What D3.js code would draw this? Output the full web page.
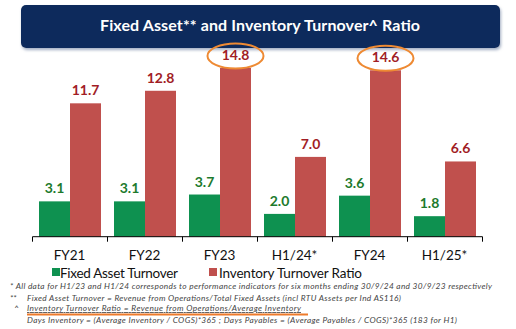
<!DOCTYPE html>
<html>
<head>
<meta charset="utf-8">
<script src="https://cdn.jsdelivr.net/npm/d3@7"></script>
<style>
  body { margin: 0; background: #fff; }
  svg { display: block; font-family: Lato, "Open Sans", sans-serif; }
</style>
</head>
<body>
<div id="chart"></div>
<script>
// data
const periods = ["FY21", "FY22", "FY23", "H1/24*", "FY24", "H1/25*"];
const fixedAsset = [3.1, 3.1, 3.7, 2.0, 3.6, 1.8];
const inventory = [11.7, 12.8, 14.8, 7.0, 14.6, 6.6];
const circled = ["FY23", "FY24"];   // inventory labels ringed in orange
const seriesNames = ["Fixed Asset Turnover", "Inventory Turnover Ratio"];
const footnotes = [
  "* All data for H1/23  and H1/24 corresponds to performance indicators for six months ending 30/9/24 and 30/9/23 respectively",
  "Fixed Asset Turnover = Revenue from Operations/Total Fixed Assets (incl RTU Assets per Ind AS116)",
  "Inventory Turnover Ratio = Revenue from Operations/Average Inventory",
  "Days Inventory = (Average Inventory / COGS)*365 ; Days Payables = (Average Payables / COGS)*365   (183 for H1)"
];

const width = 516, height = 329;
const green = "#0e9150", red = "#c0504d";
const greenTxt = "#1d7a2c", redTxt = "#a11d25";

const svg = d3.select("#chart").append("svg")
    .attr("width", width)
    .attr("height", height);

// title banner
const defs = svg.append("defs");
const f = defs.append("filter").attr("id", "sh").attr("x", "-5%").attr("y", "-20%").attr("width", "110%").attr("height", "160%");
f.append("feDropShadow").attr("dx", 1).attr("dy", 2).attr("stdDeviation", 1.5).attr("flood-color", "#7a8aa8").attr("flood-opacity", 0.7);

svg.append("rect")
    .attr("x", 21).attr("y", 5).attr("width", 479).attr("height", 43)
    .attr("rx", 5)
    .attr("fill", "#0b2b5b")
    .attr("filter", "url(#sh)");
svg.append("text")
    .attr("x", 260).attr("y", 31)
    .attr("text-anchor", "middle")
    .attr("fill", "#fff")
    .attr("font-weight", "bold")
    .attr("font-size", 16)
    .attr("textLength", 320)
    .text("Fixed Asset** and Inventory Turnover^ Ratio");

// scales
const x = d3.scaleBand().domain(periods).range([32, 482]);
const x1 = d3.scaleBand().domain([0, 1]).range([7, 69]);
const y = d3.scaleLinear().domain([0, 15]).range([236.7, 236.7 - 15 * 11.4]);

const g = svg.append("g");
const groups = g.selectAll("g.grp")
  .data(periods.map((p, i) => ({ p, vals: [fixedAsset[i], inventory[i]] })))
  .join("g")
    .attr("class", "grp")
    .attr("transform", d => `translate(${x(d.p)},0)`);

groups.selectAll("rect")
  .data(d => d.vals.map((v, k) => ({ v, k, p: d.p })))
  .join("rect")
    .attr("x", d => x1(d.k))
    .attr("width", x1.bandwidth())
    .attr("y", d => y(d.v))
    .attr("height", d => y(0) - y(d.v))
    .attr("fill", d => d.k === 0 ? green : red);

groups.selectAll("text.val")
  .data(d => d.vals.map((v, k) => ({ v, k, p: d.p })))
  .join("text")
    .attr("class", "val")
    .attr("x", d => x1(d.k) + x1.bandwidth() / 2)
    .attr("y", d => y(d.v) - 8)
    .attr("text-anchor", "middle")
    .attr("font-weight", "bold")
    .attr("font-size", 14)
    .attr("fill", d => d.k === 0 ? greenTxt : redTxt)
    .text(d => d.v.toFixed(1));

// orange rings
groups.filter(d => circled.includes(d.p))
  .append("ellipse")
    .attr("cx", x1(1) + x1.bandwidth() / 2)
    .attr("cy", d => y(d.vals[1]) - 12)
    .attr("rx", 28).attr("ry", 12.5)
    .attr("fill", "none")
    .attr("stroke", "#ee8a33")
    .attr("stroke-width", 2);

// axis
const axis = svg.append("g")
    .attr("transform", `translate(0,${y(0)})`)
    .call(d3.axisBottom(x).tickSize(0).tickPadding(14));
axis.select(".domain").attr("stroke", "#000").attr("stroke-width", 1).attr("d", "M32.5,0H482.5");
axis.selectAll(".tick text")
    .attr("font-family", "Lato, sans-serif")
    .attr("font-size", 13.5)
    .attr("fill", "#111");
svg.append("g").selectAll("line")
  .data(periods.map(p => x(p)).concat([482]))
  .join("line")
    .attr("x1", d => d + 0.5).attr("x2", d => d + 0.5)
    .attr("y1", y(0)).attr("y2", y(0) + 5)
    .attr("stroke", "#000");

// legend
const leg = svg.append("g");
[[52, 60, 118], [209, 219, 143]].forEach((pos, i) => {
  leg.append("rect").attr("x", pos[0]).attr("y", 268).attr("width", 8).attr("height", 8)
      .attr("fill", i === 0 ? green : red);
  leg.append("text").attr("x", pos[1]).attr("y", 277.5)
      .attr("font-size", 13.5).attr("fill", "#111")
      .attr("textLength", pos[2])
      .text(seriesNames[i]);
});

// footnotes
const fn = svg.append("g")
    .attr("font-style", "italic")
    .attr("font-size", 8.3)
    .attr("fill", "#444");
fn.append("text").attr("x", 10).attr("y", 289).attr("textLength", 482).text(footnotes[0]);
fn.append("text").attr("x", 10).attr("y", 301).text("**");
fn.append("text").attr("x", 27).attr("y", 301).attr("textLength", 374).text(footnotes[1]);
fn.append("text").attr("x", 14).attr("y", 311).text("^");
fn.append("text").attr("x", 27).attr("y", 311).attr("textLength", 274)
    .attr("text-decoration", "underline").text(footnotes[2]);
fn.append("text").attr("x", 27).attr("y", 323).attr("textLength", 430).text(footnotes[3]);
svg.append("line")
    .attr("x1", 27).attr("x2", 308).attr("y1", 314.5).attr("y2", 314.5)
    .attr("stroke", "#ee7a2a").attr("stroke-width", 2);
</script>
</body>
</html>
